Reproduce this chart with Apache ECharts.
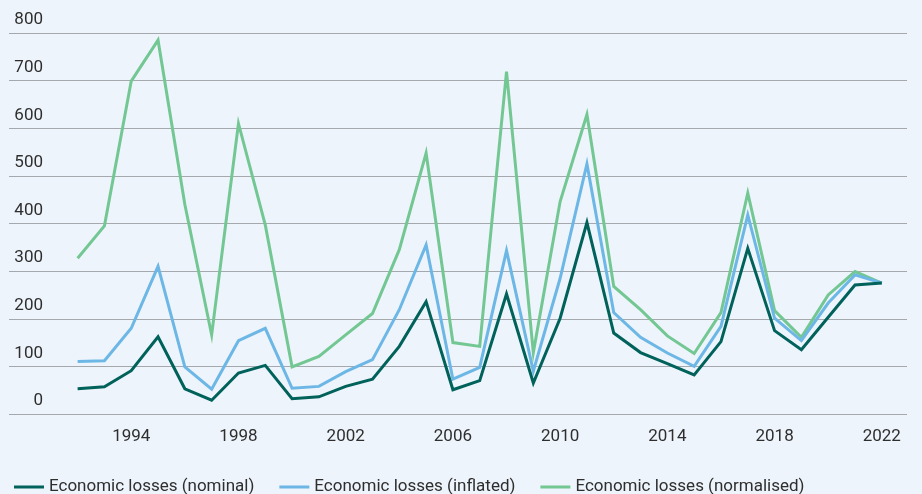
<!DOCTYPE html>
<html>
<head>
<meta charset="utf-8">
<script src="https://cdn.jsdelivr.net/npm/echarts@6/dist/echarts.min.js"></script>
<style>
  html, body { margin: 0; padding: 0; background: #eef4fb; }
  #chart { width: 922px; height: 494px; }
</style>
</head>
<body>
<div id="chart"></div>
<script>
const years = []
for (let y = 1992; y <= 2022; y++) years.push(y)

const nominal = [53, 57, 91, 162, 53, 29, 86, 102, 32, 36, 58, 73, 142, 236, 51, 70, 252, 65, 201, 402, 170, 129, 106, 82, 152, 348, 175, 135, 203, 271, 275]
const inflated = [110, 112, 180, 310, 99, 52, 154, 180, 54, 58, 89, 114, 219, 355, 73, 98, 343, 90, 285, 525, 213, 161, 128, 100, 184, 418, 201, 154, 233, 292, 275]
const normalised = [327, 395, 699, 785, 440, 166, 610, 397, 99, 121, 166, 211, 345, 548, 150, 142, 719, 129, 446, 629, 268, 219, 164, 127, 213, 464, 217, 161, 250, 299, 275]

const yearLabels = [1994, 1998, 2002, 2006, 2010, 2014, 2018, 2022]

const font = 'Roboto, "Liberation Sans", sans-serif'
const chart = echarts.init(document.getElementById('chart'), null, { renderer: 'canvas' })

function pairs(vals) {
  return years.map((y, i) => [y, vals[i]])
}

function lineSeries(name, vals, color, z) {
  return {
    name,
    type: 'line',
    data: pairs(vals),
    showSymbol: false,
    symbol: 'none',
    z,
    lineStyle: { color, width: 3, join: 'miter' },
    itemStyle: { color },
    emphasis: { disabled: true }
  }
}

chart.setOption({
  backgroundColor: '#eef4fb',
  animation: false,
  grid: { left: 9, right: 15, top: 33, bottom: 80 },
  legend: {
    left: 9,
    top: 473,
    icon: 'rect',
    itemWidth: 30,
    itemHeight: 3,
    itemGap: 25,
    textStyle: { fontFamily: font, fontSize: 17, color: '#2e2e2e', lineHeight: 18 },
    data: ['Economic losses (nominal)', 'Economic losses (inflated)', 'Economic losses (normalised)']
  },
  xAxis: {
    type: 'value',
    min: 1989.44,
    max: 2022.94,
    axisLine: { show: false },
    axisTick: { show: false },
    splitLine: { show: false },
    axisLabel: {
      customValues: yearLabels,
      formatter: v => String(v),
      margin: 14,
      fontFamily: font,
      fontSize: 17,
      color: '#2e2e2e',
      lineHeight: 18
    }
  },
  yAxis: {
    type: 'value',
    min: 0,
    max: 800,
    interval: 100,
    axisLine: { show: false },
    axisTick: { show: false },
    splitLine: { lineStyle: { color: '#a5a8ac', width: 1.2 } },
    axisLabel: {
      inside: true,
      align: 'right',
      verticalAlign: 'bottom',
      margin: 34,
      padding: [0, 0, 4, 0],
      fontFamily: font,
      fontSize: 17,
      color: '#2e2e2e',
      lineHeight: 18
    }
  },
  series: [
    lineSeries('Economic losses (nominal)', nominal, '#00625a', 4),
    lineSeries('Economic losses (inflated)', inflated, '#6cb7e6', 3),
    lineSeries('Economic losses (normalised)', normalised, '#73c793', 2)
  ]
})
</script>
</body>
</html>
